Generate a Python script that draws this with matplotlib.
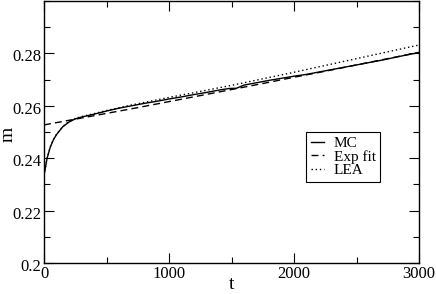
import matplotlib
matplotlib.use("Agg")
import matplotlib.pyplot as plt
import matplotlib.transforms as mtransforms
from matplotlib.ticker import MultipleLocator

plt.rcParams['font.family'] = ['Liberation Serif', 'DejaVu Serif']

# MC simulation
t_mc = [0, 25, 50, 75, 100, 150, 200, 250, 300, 400, 500, 600, 700, 800, 900,
        1000, 1100, 1200, 1300, 1400, 1480, 1540, 1600, 1700, 1800, 1900, 2000,
        2100, 2200, 2300, 2400, 2500, 2600, 2700, 2800, 2900, 3000]
m_mc = [0.2335, 0.2400, 0.2442, 0.2470, 0.2490, 0.2520, 0.2538, 0.2550, 0.2557,
        0.2568, 0.2580, 0.2591, 0.2600, 0.2609, 0.2617, 0.2626, 0.2634, 0.2643,
        0.2651, 0.2660, 0.2666, 0.2667, 0.2679, 0.2688, 0.2697, 0.2705, 0.2713,
        0.2720, 0.2729, 0.2738, 0.2747, 0.2756, 0.2765, 0.2774, 0.2784, 0.2794,
        0.2803]

# exponential fit
t_fit = [0, 250, 500, 750, 1000, 1250, 1500, 1750, 2000, 2250, 2500, 2750, 3000]
m_fit = [0.2527, 0.2549, 0.2571, 0.2593, 0.2616, 0.2639, 0.2662, 0.2685,
         0.2709, 0.2732, 0.2756, 0.2780, 0.2804]

# LEA
t_lea = [0, 25, 50, 75, 100, 150, 200, 250, 300, 400, 500, 700, 1000, 1500,
         2000, 2500, 3000]
m_lea = [0.2335, 0.2401, 0.2443, 0.2471, 0.2491, 0.2521, 0.2540, 0.2551, 0.2559,
         0.2570, 0.2582, 0.2603, 0.2632, 0.2678, 0.2728, 0.2780, 0.2832]

fig = plt.figure(figsize=(4.36, 2.94), dpi=100)
ax = fig.add_axes([44/436, 1 - 263/294, 375/436, 262/294])

ax.plot(t_mc, m_mc, color='black', lw=1.0, label='MC')
ax.plot(t_fit, m_fit, color='black', lw=1.0, ls=(0, (5, 3)), label='Exp fit')
ax.plot(t_lea, m_lea, color='black', lw=1.0, ls=(0, (1, 2)), label='LEA')

ax.set_xlim(0, 3000)
ax.set_ylim(0.2, 0.3)
ax.set_xticks([0, 1000, 2000, 3000])
ax.set_yticks([0.2, 0.22, 0.24, 0.26, 0.28])
ax.set_yticklabels(['0.2', '0.22', '0.24', '0.26', '0.28'])
ax.xaxis.set_minor_locator(MultipleLocator(500))
ax.yaxis.set_minor_locator(MultipleLocator(0.01))
ax.tick_params(which='both', direction='in', top=True, right=True, labelsize=12, pad=2)
ax.tick_params(which='major', length=7, width=0.8)
ax.tick_params(which='minor', length=4, width=0.8)
for s in ax.spines.values():
    s.set_linewidth(1.0)

# y tick labels sit a little low in the original
shift = mtransforms.ScaledTranslation(0, -2/100, fig.dpi_scale_trans)
for lab in ax.get_yticklabels():
    lab.set_transform(lab.get_transform() + shift)

ax.set_xlabel('t', fontsize=14)
ax.set_ylabel('m', fontsize=14)
ax.xaxis.set_label_coords(0.5, -0.05)
ax.yaxis.set_label_coords(-0.072, 0.49)

leg = ax.legend(loc='lower left', bbox_to_anchor=(0.699, 0.309), fontsize=11,
                frameon=True, fancybox=False, edgecolor='black', framealpha=1,
                handlelength=0.9, handletextpad=0.6, labelspacing=0.0,
                borderpad=0.3, borderaxespad=0)
leg.get_frame().set_linewidth(0.8)

fig.savefig('out.png', dpi=100)
